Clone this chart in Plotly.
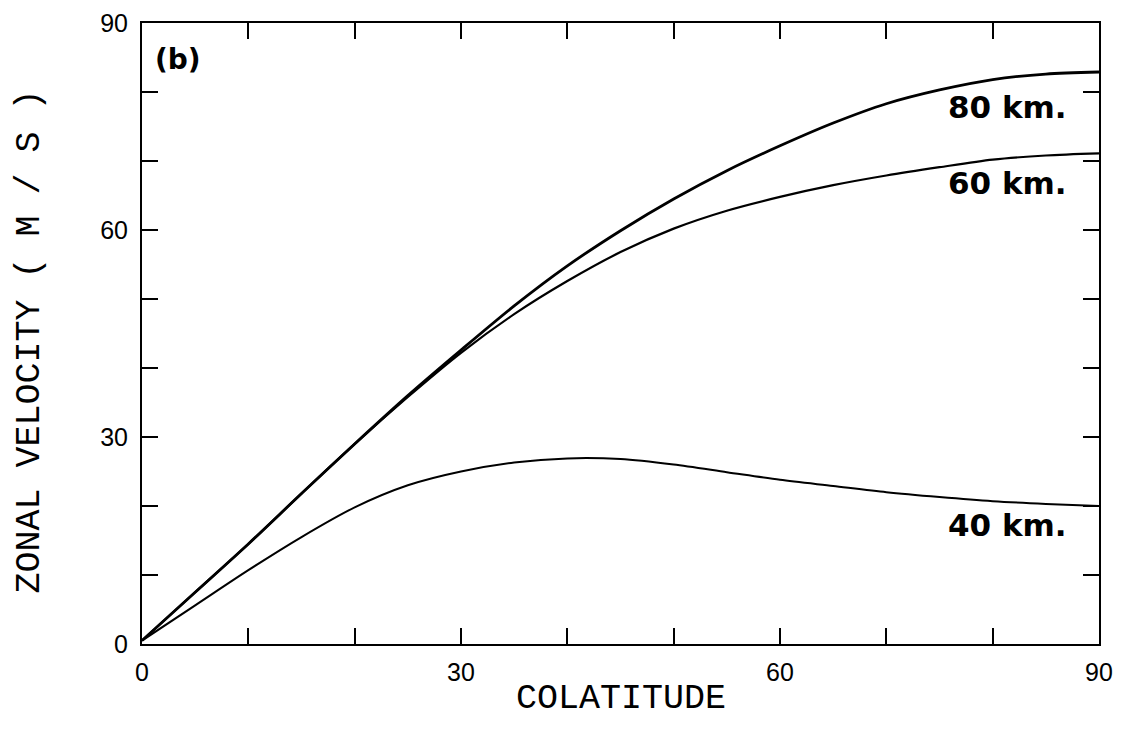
import plotly.graph_objects as go

colatitude = [0, 5, 10, 15, 20, 25, 30, 35, 40, 45, 50, 55, 60, 65, 70, 75, 80, 85, 90]
v80 = [0.5, 7.5, 14.5, 21.8, 29.0, 36.0, 42.6, 49.0, 54.8, 59.9, 64.5, 68.6, 72.2, 75.5, 78.3, 80.3, 81.8, 82.6, 82.9]
v60 = [0.5, 7.5, 14.5, 21.8, 29.0, 35.8, 42.2, 47.8, 52.6, 56.8, 60.2, 62.8, 64.8, 66.5, 67.9, 69.1, 70.2, 70.8, 71.1]
v40 = [0.5, 5.6, 10.7, 15.5, 19.8, 23.0, 25.0, 26.3, 26.9, 26.8, 26.0, 24.9, 23.8, 22.9, 22.0, 21.3, 20.7, 20.3, 20.0]

series_names = ["80 km.", "60 km.", "40 km."]
series_values = [v80, v60, v40]
series_widths = [2.8, 2.2, 2.0]
label_y = [77.8, 66.8, 17.3]

x_ticks = [0, 10, 20, 30, 40, 50, 60, 70, 80, 90]
x_ticktext = ["0", "", "", "30", "", "", "60", "", "", "90"]
y_ticks = [0, 10, 20, 30, 40, 50, 60, 70, 80, 90]
y_ticktext = ["0", "", "", "30", "", "", "60", "", "", "90"]

fig = go.Figure()
for name, vals, w in zip(series_names, series_values, series_widths):
    fig.add_trace(go.Scatter(x=colatitude, y=vals, mode="lines", name=name,
                             line=dict(color="black", width=w, shape="spline", smoothing=0.8),
                             showlegend=False))

for name, ly in zip(series_names, label_y):
    fig.add_annotation(x=87.2, y=ly, text="<b>" + name.replace(" ", "&nbsp;") + "</b>",
                       showarrow=False, xanchor="right", yanchor="middle",
                       font=dict(family="DejaVu Sans", size=31, color="black"))

fig.add_annotation(x=1.0, y=87.4, text="<b>(b)</b>", showarrow=False,
                   xanchor="left", yanchor="top",
                   font=dict(family="DejaVu Sans", size=28, color="black"))

title_font = dict(family="Liberation Mono, Courier New", size=35, color="black")
fig.add_annotation(xref="paper", yref="paper", x=0.5, y=-0.088, text="COLATITUDE",
                   showarrow=False, xanchor="center", yanchor="middle", font=title_font)
fig.add_annotation(xref="paper", yref="paper", x=-0.117, y=0.487,
                   text="ZONAL VELOCITY ( M / S )", textangle=-90,
                   showarrow=False, xanchor="center", yanchor="middle", font=title_font)

axis_common = dict(showgrid=False, zeroline=False, showline=True, linecolor="black",
                   linewidth=2, ticks="inside", ticklen=16, tickwidth=1.8, tickcolor="black",
                   mirror="ticks", ticklabeloverflow="allow", automargin=False,
                   tickfont=dict(family="Liberation Sans, Arial", size=25, color="black"))

fig.update_xaxes(range=[0, 90], tickmode="array", tickvals=x_ticks, ticktext=x_ticktext,
                 ticklabelstandoff=5, **axis_common)
fig.update_yaxes(range=[0, 90], tickmode="array", tickvals=y_ticks, ticktext=y_ticktext,
                 ticklabelstandoff=7, **axis_common)

fig.update_layout(width=1125, height=742, plot_bgcolor="white", paper_bgcolor="white",
                  margin=dict(l=134, r=34, t=15, b=106))

fig.write_html("out.html")
